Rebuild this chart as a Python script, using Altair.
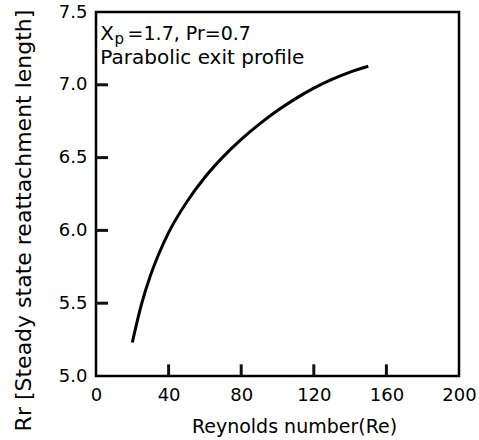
import altair as alt
import pandas as pd

re_vals = [20, 25, 30, 35, 40, 50, 60, 70, 80, 90, 100, 110, 120, 130, 140, 150]
rr_vals = [5.23, 5.49, 5.69, 5.85, 5.985, 6.195, 6.365, 6.505, 6.625, 6.73, 6.823, 6.905, 6.977, 7.037, 7.087, 7.127]

x_ticks = [0, 40, 80, 120, 160, 200]
y_ticks = [5.0, 5.5, 6.0, 6.5, 7.0, 7.5]
x_inner_ticks = [40, 80, 120, 160]
y_inner_ticks = [5.5, 6.0, 6.5, 7.0]

FONT = "DejaVu Sans"

curve_df = pd.DataFrame({"Re": re_vals, "Rr": rr_vals})

xscale = alt.Scale(domain=[0, 200], nice=False, zero=False)
yscale = alt.Scale(domain=[5.0, 7.5], nice=False, zero=False)

x_axis = alt.Axis(values=x_ticks, format="d", ticks=False, domain=False, grid=False,
                  labelFont=FONT, labelFontSize=18, labelColor="black", labelPadding=10,
                  title="Reynolds number(Re)", titleFont=FONT, titleFontSize=19,
                  titleFontWeight="normal", titleColor="black", titlePadding=13,
                  titleX=198, labelFlush=False)
y_axis = alt.Axis(values=y_ticks, format=".1f", ticks=False, domain=False, grid=False,
                  labelFont=FONT, labelFontSize=18, labelColor="black", labelPadding=9,
                  title="Rr [Steady state reattachment length]", titleFont=FONT,
                  titleFontSize=22, titleFontWeight="normal", titleColor="black",
                  titleX=-61, titleY=208, labelFlush=False)

curve = alt.Chart(curve_df).mark_line(color="#000000", strokeWidth=3, interpolate="monotone").encode(
    x=alt.X("Re:Q", scale=xscale, axis=x_axis),
    y=alt.Y("Rr:Q", scale=yscale, axis=y_axis),
)

tick_df = pd.DataFrame({
    "Re": x_inner_ticks + [0.0] * 4,
    "Re2": x_inner_ticks + [6.6] * 4,
    "Rr": [5.0] * 4 + y_inner_ticks,
    "Rr2": [5.08] * 4 + y_inner_ticks,
})
ticks = alt.Chart(tick_df).mark_rule(color="#111111", strokeWidth=3).encode(
    x=alt.X("Re:Q", scale=xscale), x2="Re2:Q",
    y=alt.Y("Rr:Q", scale=yscale), y2="Rr2:Q")

ann_df = pd.DataFrame({
    "Re": [2.4, 10.2, 17.4, 2.4],
    "Rr": [7.308, 7.278, 7.308, 7.143],
    "label": ["X", "p", "=1.7, Pr=0.7", "Parabolic exit profile"],
    "size": [20, 15, 19, 20],
})
ann = alt.Chart(ann_df).mark_text(align="left", baseline="alphabetic", font=FONT, color="black").encode(
    x=alt.X("Re:Q", scale=xscale), y=alt.Y("Rr:Q", scale=yscale), text="label:N",
    size=alt.Size("size:Q", scale=None, legend=None))

chart = alt.layer(curve, ann, ticks).properties(
    width=363, height=364,
    autosize=alt.AutoSizeParams(type="none"),
    padding={"left": 96, "top": 12, "right": 20, "bottom": 64},
).configure_view(stroke="black", strokeWidth=2.5)

chart.save("out.html", embed_options={"renderer": "svg", "actions": False})
